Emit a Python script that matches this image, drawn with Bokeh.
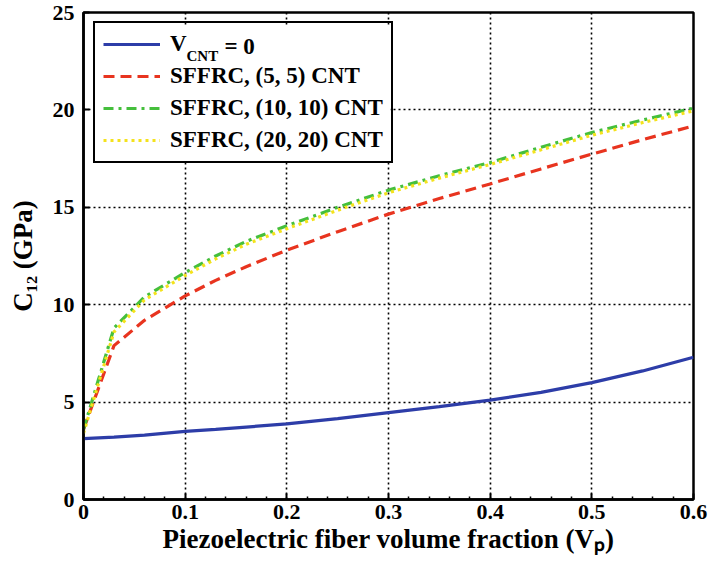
import math
from bokeh.plotting import figure
from bokeh.models import (Range1d, FixedTicker, Legend, LegendItem, Label, BoxAnnotation)
from bokeh.embed import file_html
from bokeh.resources import INLINE

# ---------------- data ----------------
vp = [0.0, 0.03, 0.06, 0.10, 0.13, 0.16, 0.20, 0.25, 0.30, 0.35, 0.40, 0.45, 0.50, 0.55, 0.60]
c12_vcnt0 = [3.13, 3.20, 3.30, 3.50, 3.60, 3.72, 3.88, 4.15, 4.46, 4.77, 5.10, 5.50, 6.00, 6.60, 7.30]
c12_cnt55 = [3.60, 7.90, 9.20, 10.45, 11.25, 11.95, 12.80, 13.75, 14.65, 15.45, 16.20, 16.97, 17.73, 18.47, 19.18]
c12_cnt1010 = [3.60, 8.80, 10.40, 11.65, 12.50, 13.25, 14.05, 15.00, 15.88, 16.62, 17.30, 18.08, 18.84, 19.48, 20.09]
c12_cnt2020 = [3.40, 8.60, 10.25, 11.50, 12.35, 13.10, 13.90, 14.85, 15.75, 16.50, 17.20, 17.95, 18.70, 19.35, 19.95]

x_ticks = [0, 0.1, 0.2, 0.3, 0.4, 0.5, 0.6]
x_tick_labels = ["0", "0.1", "0.2", "0.3", "0.4", "0.5", "0.6"]
x_minor = [0.02, 0.04, 0.06, 0.08, 0.12, 0.14, 0.16, 0.18, 0.22, 0.24, 0.26, 0.28,
           0.32, 0.34, 0.36, 0.38, 0.42, 0.44, 0.46, 0.48, 0.52, 0.54, 0.56, 0.58]
y_ticks = [0, 5, 10, 15, 20, 25]
y_tick_labels = ["0", "5", "10", "15", "20", "25"]

series_labels = ["V", "SFFRC, (5, 5) CNT", "SFFRC, (10, 10) CNT", "SFFRC, (20, 20) CNT"]
x_title = "Piezoelectric fiber volume fraction (V\u209a)"
y_title = "C\u2081\u2082 (GPa)"

# ---------------- layout ----------------
W, H = 710, 575
LEFT, RIGHT, TOP, BOTTOM = 83, 17, 12, 76
FONT = "Liberation Serif"

p = figure(width=W, height=H, output_backend="svg", toolbar_location=None,
           x_range=Range1d(0, 0.6), y_range=Range1d(0, 25),
           min_border_left=LEFT, min_border_right=RIGHT,
           min_border_top=TOP, min_border_bottom=BOTTOM,
           x_axis_location="below", y_axis_location="left")
p.background_fill_color = "white"
p.border_fill_color = "white"
p.outline_line_color = "black"
p.outline_line_width = 2.5

xt = FixedTicker(ticks=x_ticks, minor_ticks=x_minor)
yt = FixedTicker(ticks=y_ticks, minor_ticks=[])

def style_axis(ax, overrides):
    ax.axis_line_color = "black"
    ax.axis_line_width = 2.5
    ax.major_tick_in = 6
    ax.major_tick_out = 0
    ax.minor_tick_in = 3
    ax.minor_tick_out = 0
    ax.major_tick_line_width = 2
    ax.minor_tick_line_width = 1.5
    ax.major_tick_line_color = "black"
    ax.minor_tick_line_color = "black"
    ax.major_label_text_font = FONT
    ax.major_label_text_font_style = "bold"
    ax.major_label_text_font_size = "22px"
    ax.major_label_text_color = "black"
    ax.major_label_overrides = overrides
    ax.axis_label_text_font = FONT
    ax.axis_label_text_font_style = "bold"
    ax.axis_label_text_font_size = "27px"
    ax.axis_label_text_color = "black"

xa = p.xaxis[0]
xa.ticker = xt
style_axis(xa, {float(t): s for t, s in zip(x_ticks, x_tick_labels)})
xa.major_label_standoff = 5
xa.axis_label = x_title
xa.axis_label_standoff = 2
ya = p.yaxis[0]
ya.ticker = yt
style_axis(ya, {float(t): s for t, s in zip(y_ticks, y_tick_labels)})
ya.major_label_standoff = 9
ya.axis_label = y_title
ya.axis_label_standoff = 12

for g in (p.xgrid[0], p.ygrid[0]):
    g.grid_line_color = "black"
    g.grid_line_width = 1.6
    g.grid_line_dash = "2 3"
p.xgrid[0].ticker = xt
p.ygrid[0].ticker = yt

# ---------------- curves ----------------
r0 = p.line(vp, c12_vcnt0, line_color="#2d3da8", line_width=3.2)
r1 = p.line(vp, c12_cnt55, line_color="#e8341f", line_width=3.2, line_dash="11 6")
r2 = p.line(vp, c12_cnt1010, line_color="#45bf3c", line_width=3.2, line_dash="10 5 3 5")
r3 = p.line(vp, c12_cnt2020, line_color="#f4e21c", line_width=3.2, line_dash="3 4")

# screen-pixel helpers (relative to the frame's bottom-left corner)
FRAME_H = H - TOP - BOTTOM
def fy(canvas_y):
    return FRAME_H + TOP - canvas_y
def fx(canvas_x):
    return canvas_x - LEFT

# white backing for the legend (the legend itself is transparent so the
# subscript text drawn on this backing stays visible)
p.add_layout(BoxAnnotation(left=fx(94), right=fx(390), top=fy(26), bottom=fy(162),
                           left_units="screen", right_units="screen",
                           top_units="screen", bottom_units="screen",
                           fill_color="white", fill_alpha=1.0, line_alpha=0.0))

legend = Legend(items=[LegendItem(label=lab, renderers=[r])
                       for lab, r in zip(series_labels, [r0, r1, r2, r3])],
                location=(10, 336))
legend.border_line_color = "black"
legend.border_line_alpha = 1.0
legend.border_line_width = 2.5
legend.background_fill_alpha = 0.0
legend.label_text_font = FONT
legend.label_text_font_style = "bold"
legend.label_text_font_size = "23px"
legend.label_text_color = "black"
legend.label_height = 26
legend.glyph_height = 26
legend.glyph_width = 57
legend.label_standoff = 10
legend.spacing = 6
legend.padding = 8
legend.margin = 0
p.add_layout(legend, "center")

common = dict(x_units="screen", y_units="screen", text_font=FONT,
              text_font_style="bold", text_color="black")
p.add_layout(Label(x=fx(186), y=fy(55), text="CNT", text_font_size="15px",
                   text_align="left", text_baseline="middle", **common))
p.add_layout(Label(x=fx(224), y=fy(46), text="= 0", text_font_size="23px",
                   text_align="left", text_baseline="middle", **common))

open("out.html", "w").write(file_html(p, INLINE))
